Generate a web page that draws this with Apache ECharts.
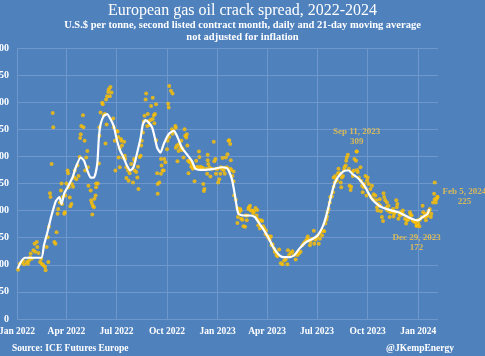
<!DOCTYPE html>
<html>
<head>
<meta charset="utf-8">
<script src="https://cdn.jsdelivr.net/npm/echarts@6/dist/echarts.min.js"></script>
<style>
html,body{margin:0;padding:0;background:#4f81bd;}
#chart{width:485px;height:356px;}
</style>
</head>
<body>
<div id="chart"></div>
<script>
// ---- Data ----
const titleText = 'European gas oil crack spread, 2022-2024';
const subtitleLine1 = 'U.S.$ per tonne, second listed contract month, daily and 21-day moving average';
const subtitleLine2 = 'not adjusted for inflation';
const sourceText = 'Source: ICE Futures Europe';
const creditText = '@JKempEnergy';

const xTickDates = ['2022-01-01','2022-04-01','2022-07-01','2022-10-01','2023-01-01','2023-04-01','2023-07-01','2023-10-01','2024-01-01'];
const xTickLabels = ['Jan 2022','Apr 2022','Jul 2022','Oct 2022','Jan 2023','Apr 2023','Jul 2023','Oct 2023','Jan 2024'];
const yTickValues = [0,50,100,150,200,250,300,350,400,450,500];

// daily settlements (date, US$/t)
const dailySpread = [
["2022-01-03",91],["2022-01-06",102],["2022-01-10",105],["2022-01-12",108],["2022-01-14",101],["2022-01-19",105],["2022-01-21",102],["2022-01-23",108],["2022-01-25",114],["2022-01-26",121],["2022-01-28",111],["2022-01-31",127],
["2022-02-02",139],["2022-02-03",124],["2022-02-06",142],["2022-02-07",133],["2022-02-09",122],["2022-02-12",105],["2022-02-14",111],["2022-02-15",102],["2022-02-18",99],["2022-02-21",96],["2022-02-22",90],["2022-02-24",133],["2022-02-26",151],["2022-02-27",105],["2022-02-28",170],
["2022-03-02",232],["2022-03-03",225],["2022-03-05",286],["2022-03-07",380],["2022-03-08",354],["2022-03-10",142],["2022-03-12",139],["2022-03-14",160],["2022-03-16",194],["2022-03-17",203],["2022-03-20",215],["2022-03-22",237],["2022-03-23",250],["2022-03-24",212],["2022-03-25",225],["2022-03-28",194],["2022-03-29",197],["2022-03-30",228],
["2022-04-01",250],["2022-04-03",274],["2022-04-04",269],["2022-04-05",243],["2022-04-07",224],["2022-04-08",208],["2022-04-10",212],["2022-04-11",249],["2022-04-13",244],["2022-04-15",261],["2022-04-16",274],["2022-04-19",258],["2022-04-21",283],["2022-04-23",264],["2022-04-25",299],["2022-04-26",334],["2022-04-27",341],["2022-04-28",356],
["2022-05-01",376],["2022-05-02",354],["2022-05-04",329],["2022-05-05",274],["2022-05-07",298],["2022-05-09",310],["2022-05-10",280],["2022-05-11",246],["2022-05-15",237],["2022-05-16",219],["2022-05-17",214],["2022-05-18",193],["2022-05-19",209],["2022-05-21",206],["2022-05-22",222],["2022-05-24",228],["2022-05-25",243],["2022-05-25",250],["2022-05-28",250],["2022-05-30",287],["2022-05-31",338],["2022-05-31",354],
["2022-06-02",381],["2022-06-05",399],["2022-06-06",396],["2022-06-08",376],["2022-06-10",378],["2022-06-11",324],["2022-06-12",405],["2022-06-13",359],["2022-06-14",411],["2022-06-16",419],["2022-06-17",424],["2022-06-19",411],["2022-06-20",428],["2022-06-22",418],["2022-06-25",370],["2022-06-26",354],["2022-06-28",329],["2022-06-29",274],
["2022-07-01",347],["2022-07-03",346],["2022-07-04",336],["2022-07-05",298],["2022-07-07",280],["2022-07-07",315],["2022-07-09",332],["2022-07-10",329],["2022-07-11",320],["2022-07-13",298],["2022-07-15",327],["2022-07-16",301],["2022-07-17",295],["2022-07-19",260],["2022-07-19",280],["2022-07-22",274],["2022-07-23",255],["2022-07-25",269],["2022-07-28",286],["2022-07-31",252],
["2022-08-02",295],["2022-08-03",292],["2022-08-03",274],["2022-08-06",271],["2022-08-08",261],["2022-08-09",281],["2022-08-10",240],["2022-08-12",299],["2022-08-14",301],["2022-08-15",320],["2022-08-16",329],["2022-08-18",344],["2022-08-20",365],["2022-08-21",375],["2022-08-23",405],["2022-08-24",416],["2022-08-26",356],["2022-08-27",378],["2022-08-28",365],["2022-08-30",358],
["2022-09-01",367],["2022-09-02",393],["2022-09-05",408],["2022-09-05",369],["2022-09-07",376],["2022-09-08",361],["2022-09-09",378],["2022-09-11",396],["2022-09-11",330],["2022-09-13",269],["2022-09-14",231],["2022-09-14",249],["2022-09-17",252],["2022-09-20",268],["2022-09-20",295],["2022-09-21",283],["2022-09-23",274],["2022-09-25",274],["2022-09-26",295],["2022-09-28",289],
["2022-10-01",313],["2022-10-02",329],["2022-10-03",397],["2022-10-04",390],["2022-10-05",336],["2022-10-05",430],["2022-10-08",421],["2022-10-10",350],["2022-10-11",416],["2022-10-11",342],["2022-10-13",347],["2022-10-16",356],["2022-10-17",353],["2022-10-17",316],["2022-10-19",320],["2022-10-20",291],["2022-10-22",310],["2022-10-23",323],["2022-10-25",316],["2022-10-27",329],["2022-10-28",312],["2022-10-29",315],["2022-10-31",298],
["2022-11-02",350],["2022-11-03",338],["2022-11-05",335],["2022-11-06",341],["2022-11-07",320],["2022-11-08",292],["2022-11-09",269],["2022-11-11",289],["2022-11-12",292],["2022-11-14",281],["2022-11-15",286],["2022-11-17",277],["2022-11-18",280],["2022-11-20",254],["2022-11-23",292],["2022-11-25",281],["2022-11-26",279],["2022-11-28",309],["2022-11-29",299],
["2022-12-01",281],["2022-12-02",277],["2022-12-05",279],["2022-12-06",249],["2022-12-07",236],["2022-12-08",240],["2022-12-11",277],["2022-12-13",268],["2022-12-14",293],["2022-12-14",303],["2022-12-15",286],["2022-12-17",280],["2022-12-19",263],["2022-12-21",277],["2022-12-25",327],["2022-12-26",291],["2022-12-28",295],["2022-12-29",277],["2022-12-29",268],
["2023-01-01",277],["2023-01-02",252],["2023-01-04",258],["2023-01-06",268],["2023-01-07",280],["2023-01-08",277],["2023-01-10",297],["2023-01-12",274],["2023-01-13",279],["2023-01-14",268],["2023-01-16",298],["2023-01-18",280],["2023-01-19",304],["2023-01-21",329],["2023-01-22",330],["2023-01-24",323],["2023-01-24",277],["2023-01-25",293],["2023-01-26",275],["2023-01-28",264],["2023-01-30",272],["2023-01-30",254],["2023-01-31",228],
["2023-02-03",220],["2023-02-06",205],["2023-02-06",177],["2023-02-07",188],["2023-02-09",197],["2023-02-11",203],["2023-02-12",200],["2023-02-13",185],["2023-02-15",183],["2023-02-17",171],["2023-02-20",170],["2023-02-21",191],["2023-02-23",182],["2023-02-24",191],["2023-02-26",203],["2023-02-27",206],
["2023-03-01",209],["2023-03-02",200],["2023-03-05",200],["2023-03-07",195],["2023-03-08",199],["2023-03-11",205],["2023-03-13",191],["2023-03-14",201],["2023-03-14",185],["2023-03-16",173],["2023-03-17",182],["2023-03-19",167],["2023-03-21",182],["2023-03-23",181],["2023-03-25",171],["2023-03-27",167],["2023-03-29",157],["2023-03-30",163],
["2023-04-01",154],["2023-04-03",150],["2023-04-05",152],["2023-04-06",146],["2023-04-08",152],["2023-04-09",136],["2023-04-11",138],["2023-04-14",130],["2023-04-15",124],["2023-04-17",124],["2023-04-18",118],["2023-04-20",116],["2023-04-23",128],["2023-04-26",103],["2023-04-29",101],
["2023-05-02",108],["2023-05-05",110],["2023-05-08",101],["2023-05-09",127],["2023-05-11",118],["2023-05-14",122],["2023-05-17",125],["2023-05-20",118],["2023-05-23",110],["2023-05-26",118],["2023-05-29",121],
["2023-06-01",124],["2023-06-04",136],["2023-06-07",140],["2023-06-10",144],["2023-06-13",148],["2023-06-14",152],["2023-06-16",146],["2023-06-18",136],["2023-06-19",142],["2023-06-22",148],["2023-06-25",163],["2023-06-26",139],["2023-06-28",146],["2023-06-30",150],
["2023-07-02",154],["2023-07-04",139],["2023-07-06",148],["2023-07-07",159],["2023-07-10",154],["2023-07-12",163],["2023-07-14",162],["2023-07-16",176],["2023-07-18",183],["2023-07-19",189],["2023-07-20",197],["2023-07-22",203],["2023-07-24",215],["2023-07-25",225],["2023-07-28",226],["2023-07-30",234],["2023-07-31",244],["2023-07-31",261],
["2023-08-02",252],["2023-08-03",264],["2023-08-05",258],["2023-08-06",255],["2023-08-08",269],["2023-08-09",277],["2023-08-11",269],["2023-08-13",252],["2023-08-14",243],["2023-08-15",261],["2023-08-17",264],["2023-08-19",275],["2023-08-20",280],["2023-08-22",283],["2023-08-23",292],["2023-08-24",298],["2023-08-26",303],["2023-08-28",277],["2023-08-29",246],["2023-08-31",238],
["2023-09-01",244],["2023-09-03",271],["2023-09-04",264],["2023-09-06",274],["2023-09-07",295],["2023-09-10",292],["2023-09-11",309],["2023-09-12",275],["2023-09-13",271],["2023-09-15",261],["2023-09-18",280],["2023-09-19",255],["2023-09-21",246],["2023-09-22",234],["2023-09-24",243],["2023-09-25",249],["2023-09-27",264],["2023-09-29",228],["2023-09-30",255],
["2023-10-01",261],["2023-10-03",249],["2023-10-06",240],["2023-10-07",225],["2023-10-09",246],["2023-10-11",221],["2023-10-12",230],["2023-10-15",228],["2023-10-17",219],["2023-10-18",206],["2023-10-19",200],["2023-10-21",212],["2023-10-23",221],["2023-10-24",209],["2023-10-25",199],["2023-10-27",188],["2023-10-29",181],["2023-10-30",232],["2023-10-31",225],
["2023-11-02",219],["2023-11-04",206],["2023-11-05",215],["2023-11-06",200],["2023-11-08",209],["2023-11-10",188],["2023-11-11",197],["2023-11-14",199],["2023-11-16",203],["2023-11-17",189],["2023-11-18",194],["2023-11-20",197],["2023-11-22",219],["2023-11-23",206],["2023-11-24",212],["2023-11-26",185],["2023-11-28",193],["2023-11-29",191],["2023-11-30",197],
["2023-12-02",195],["2023-12-04",200],["2023-12-05",193],["2023-12-08",185],["2023-12-10",176],["2023-12-11",182],["2023-12-14",183],["2023-12-17",197],["2023-12-18",193],["2023-12-20",191],["2023-12-22",182],["2023-12-23",181],["2023-12-26",179],["2023-12-27",179],["2023-12-29",172],["2023-12-31",182],
["2024-01-01",176],["2024-01-03",171],["2024-01-04",183],["2024-01-07",188],["2024-01-09",209],["2024-01-10",197],["2024-01-12",188],["2024-01-13",194],["2024-01-15",182],["2024-01-16",189],["2024-01-18",191],["2024-01-19",197],["2024-01-21",200],["2024-01-22",203],["2024-01-24",188],["2024-01-25",194],["2024-01-28",215],["2024-01-30",231],["2024-01-31",221],["2024-01-31",252],
["2024-02-02",215],["2024-02-03",221],["2024-02-05",225]
];

// 21-day moving average (date, US$/t)
const movingAverage = [
["2022-01-02",93],["2022-01-15",113],["2022-02-14",113],["2022-02-19",136],["2022-02-26",163],["2022-03-04",188],["2022-03-09",206],["2022-03-13",218],["2022-03-19",225],["2022-03-23",212],["2022-03-28",232],["2022-04-03",243],["2022-04-12",261],["2022-04-18",280],["2022-04-27",298],["2022-05-03",292],["2022-05-09",274],["2022-05-15",261],["2022-05-21",261],["2022-05-27",286],["2022-05-30",335],["2022-06-02",359],["2022-06-08",375],["2022-06-14",378],["2022-06-20",369],["2022-06-26",356],["2022-07-02",329],["2022-07-08",310],["2022-07-14",298],["2022-07-20",283],["2022-07-26",274],["2022-08-01",280],["2022-08-07",304],["2022-08-14",335],["2022-08-18",359],["2022-08-23",367],["2022-08-29",362],["2022-09-04",353],["2022-09-10",329],["2022-09-13",316],["2022-09-19",307],["2022-09-25",323],["2022-10-04",341],["2022-10-13",347],["2022-10-19",338],["2022-10-28",316],["2022-11-06",304],["2022-11-15",292],["2022-11-22",277],["2022-12-07",275],["2022-12-25",277],["2023-01-09",280],["2023-01-18",278],["2023-01-21",274],["2023-01-27",258],["2023-01-30",243],["2023-02-02",225],["2023-02-05",206],["2023-02-08",194],["2023-02-17",191],["2023-03-01",191],["2023-03-10",188],["2023-03-16",179],["2023-03-25",166],["2023-04-03",151],["2023-04-12",133],["2023-04-21",120],["2023-04-30",114],["2023-05-12",114],["2023-05-21",118],["2023-05-30",130],["2023-06-11",142],["2023-06-23",148],["2023-07-02",154],["2023-07-11",170],["2023-07-17",188],["2023-07-23",212],["2023-07-29",237],["2023-08-04",255],["2023-08-13",268],["2023-08-22",274],["2023-08-28",274],["2023-09-03",268],["2023-09-12",261],["2023-09-18",255],["2023-09-27",243],["2023-09-30",237],["2023-10-09",221],["2023-10-18",212],["2023-10-27",206],["2023-11-05",203],["2023-11-14",200],["2023-11-26",197],["2023-12-08",191],["2023-12-20",185],["2023-12-31",182],["2024-01-09",188],["2024-01-18",194],["2024-01-21",203]
];

// annotated points: date, value, label side
const annotatedDates = ['2023-09-11','2023-12-29','2024-02-05'];
const annotatedValues = [309,172,225];
const annotatedSides = ['top','bottom','right'];

// ---- Chart ----
const MONTHS = ['Jan','Feb','Mar','Apr','May','Jun','Jul','Aug','Sep','Oct','Nov','Dec'];
function toTs(s){ const p = s.split('-'); return Date.UTC(+p[0], +p[1]-1, +p[2]); }
function fmtDate(s){ const p = s.split('-'); return MONTHS[+p[1]-1] + ' ' + (+p[2]) + ', ' + p[0]; }

const serif = '"Liberation Serif", "DejaVu Serif", serif';
const gold = '#FFC000';
const labelGold = '#F7C744';
const gridColor = '#7097cc';

const tickTs = xTickDates.map(toTs);
const tickLabelMap = {};
tickTs.forEach((t,i)=>{ tickLabelMap[t] = xTickLabels[i]; });

const dailyData = dailySpread.map(p => [toTs(p[0]), p[1]]);
const maData = movingAverage.map(p => [toTs(p[0]), p[1]]);

const annotData = annotatedDates.map((d,i)=>{
  const side = annotatedSides[i];
  const label = {
    show: true,
    formatter: fmtDate(d) + '\n' + annotatedValues[i],
    color: labelGold, fontFamily: serif, fontSize: 9, fontWeight: 'bold', lineHeight: 10,
    position: side, distance: 3, align: 'center'
  };
  if (side === 'right') { label.offset = [22, 0]; }
  if (side === 'bottom') { label.distance = 5; }
  return { value: [toTs(d), annotatedValues[i]], label: label };
});

const chart = echarts.init(document.getElementById('chart'), null, {renderer:'canvas'});
chart.setOption({
  backgroundColor: '#4f81bd',
  animation: false,
  title: [
    { text: titleText, left: 'center', top: 3, padding: 0,
      textStyle: { color:'#fff', fontFamily: serif, fontSize: 16, fontWeight: 'normal' } },
    { text: subtitleLine1, left: 'center', top: 20, padding: 0,
      textStyle: { color:'#fff', fontFamily: serif, fontSize: 10.5, fontWeight: 'bold' } },
    { text: subtitleLine2, left: 'center', top: 32, padding: 0,
      textStyle: { color:'#fff', fontFamily: serif, fontSize: 10.5, fontWeight: 'bold' } },
    { text: sourceText, left: 12, top: 344, padding: 0,
      textStyle: { color:'#fff', fontFamily: serif, fontSize: 9.5, fontWeight: 'bold' } },
    { text: creditText, right: 31, top: 344, padding: 0,
      textStyle: { color:'#fff', fontFamily: serif, fontSize: 9.5, fontWeight: 'bold' } }
  ],
  grid: { left: 17, right: 47, top: 48, bottom: 37, containLabel: false, outerBoundsMode: 'none' },
  xAxis: {
    type: 'value',
    min: toTs('2022-01-01'),
    max: toTs('2024-02-06'),
    axisLine: { show: false },
    axisTick: { show: false, customValues: tickTs },
    splitLine: { show: true, lineStyle: { color: gridColor, width: 1 } },
    axisLabel: {
      customValues: tickTs,
      formatter: function(v){ return tickLabelMap[v] || ''; },
      color: '#fff', fontFamily: serif, fontWeight: 'bold', fontSize: 9.5, margin: 8,
      hideOverlap: false
    }
  },
  yAxis: {
    type: 'value', min: 0, max: 500, interval: 50,
    axisLine: { show: false }, axisTick: { show: false },
    splitLine: { show: true, lineStyle: { color: gridColor, width: 1 } },
    axisLabel: { color: '#fff', fontFamily: serif, fontWeight: 'bold', fontSize: 10, margin: 8 }
  },
  series: [
    { name: 'Daily', type: 'scatter', data: dailyData, symbol: 'circle', symbolSize: 4,
      itemStyle: { color: gold }, z: 2 },
    { name: '21-day MA', type: 'line', data: maData, showSymbol: false, smooth: 0.2,
      lineStyle: { color: '#ffffff', width: 2.2 }, z: 3 },
    { name: 'Annotations', type: 'scatter', data: annotData, symbol: 'circle', symbolSize: 4,
      itemStyle: { color: gold }, z: 4 }
  ]
});
</script>
</body>
</html>
